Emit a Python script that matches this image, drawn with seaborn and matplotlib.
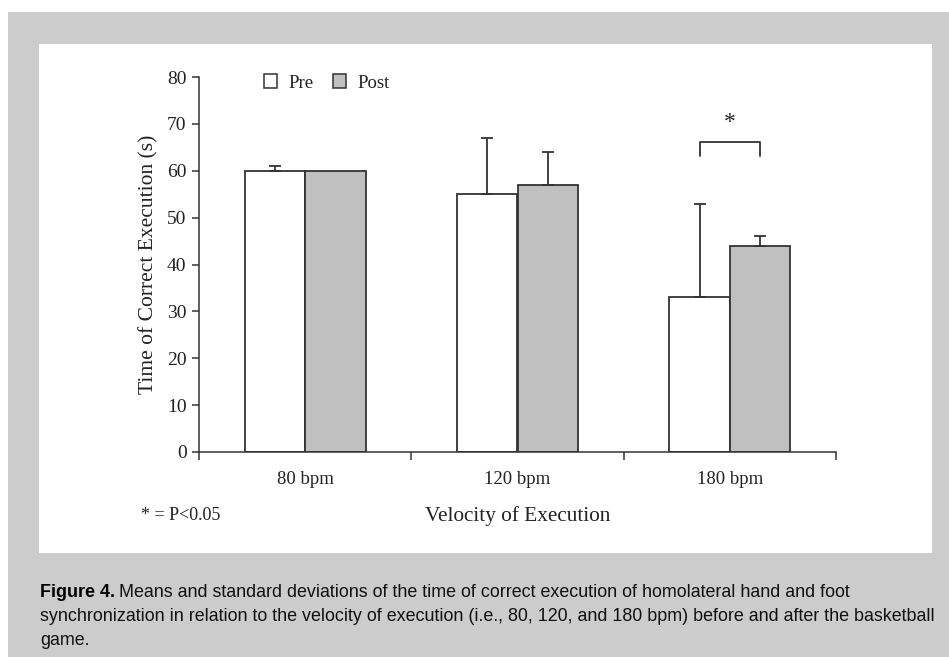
import matplotlib
matplotlib.use("Agg")
import matplotlib.pyplot as plt
import seaborn as sns
import pandas as pd
import numpy as np
from matplotlib.patches import Rectangle, Patch

# ---- data ----
velocities = ["80 bpm", "120 bpm", "180 bpm"]
phases = ["Pre", "Post"]
pre_means = [60, 55, 33]
post_means = [60, 57, 44]
pre_sd = [1, 12, 20]
post_sd = [0, 7, 2]
y_ticks = [0, 10, 20, 30, 40, 50, 60, 70, 80]

sns.set_theme(style="white")
plt.rcParams["font.family"] = ["Liberation Serif", "DejaVu Serif"]

W, H = 949, 657
fig = plt.figure(figsize=(W / 100, H / 100), dpi=100)
fig.patch.set_facecolor("white")

def fx(px):
    return px / W

def fy(py):
    return 1 - py / H

# background panels
fig.patches.append(Rectangle((fx(8), 0), 1 - fx(8), fy(12), transform=fig.transFigure,
                             facecolor="#cccccc", edgecolor="none", zorder=-10))
fig.patches.append(Rectangle((fx(39), fy(553)), fx(932) - fx(39), fy(44) - fy(553),
                             transform=fig.transFigure, facecolor="white",
                             edgecolor="none", zorder=-9))

ax = fig.add_axes([fx(199), fy(452), fx(836) - fx(199), fy(77) - fy(452)])
ax.set_facecolor("none")

df = pd.DataFrame({
    "velocity": velocities * 2,
    "phase": ["Pre"] * 3 + ["Post"] * 3,
    "value": pre_means + post_means,
})

edge = "#333333"
sns.barplot(data=df, x="velocity", y="value", hue="phase", order=velocities,
            hue_order=phases, palette=["white", "#c0c0c0"], edgecolor=edge,
            linewidth=1.3, width=0.57, errorbar=None, saturation=1, ax=ax,
            legend=False)

sds = [pre_sd, post_sd]
centers = []
for cont, sd in zip(ax.containers, sds):
    xs = [b.get_x() + b.get_width() / 2 for b in cont]
    hs = [b.get_height() for b in cont]
    centers.append(xs)
    for x, h, s in zip(xs, hs, sd):
        if s > 0:
            ax.errorbar([x], [h], yerr=[[0], [s]], fmt="none", ecolor=edge,
                        elinewidth=1.3, capsize=4.5, capthick=1.3, zorder=5)

# significance bracket for 180 bpm
xl, xr = centers[0][2], centers[1][2]
ax.plot([xl, xl, xr, xr], [63.1, 66.1, 66.1, 63.1], color=edge, lw=1.3,
        clip_on=False)
ax.text((xl + xr) / 2, 70.4, "*", ha="center", va="center", fontsize=17,
        color="#222222")

ax.set_xlim(-0.5, 2.5)
ax.set_ylim(0, 80)
ax.set_yticks(y_ticks)
ax.set_xticks([-0.5, 0.5, 1.5, 2.5], minor=True)
for s in ["top", "right"]:
    ax.spines[s].set_visible(False)
for s in ["left", "bottom"]:
    ax.spines[s].set_color(edge)
    ax.spines[s].set_linewidth(1.1)
ax.tick_params(axis="y", which="major", left=True, length=5, width=1.1,
               color=edge, labelsize=14, pad=4, labelcolor="#222222")
ax.tick_params(axis="x", which="major", bottom=False, length=0, labelsize=13.5,
               pad=14, labelcolor="#222222")
ax.tick_params(axis="x", which="minor", bottom=True, length=6, width=1.1,
               color=edge)

ax.set_ylabel("Time of Correct Execution (s)", fontsize=15.5, labelpad=6,
              color="#222222")
ax.set_xlabel("Velocity of Execution", fontsize=15.3, labelpad=13,
              color="#222222")

handles = [Patch(facecolor="white", edgecolor=edge, linewidth=1.1, label="Pre"),
           Patch(facecolor="#c0c0c0", edgecolor=edge, linewidth=1.1, label="Post")]
leg = ax.legend(handles=handles, loc="center left",
                bbox_to_anchor=(0.102, 0.984), ncol=2, frameon=False,
                fontsize=13.5, handlelength=0.72, handleheight=0.72,
                handletextpad=0.6, columnspacing=1.0, borderaxespad=0,
                borderpad=0)
for t in leg.get_texts():
    t.set_color("#222222")

fig.text(fx(141), fy(516), "* = P<0.05", fontsize=13, va="center",
         ha="left", color="#222222")

# caption
cap_font = ["Liberation Sans", "DejaVu Sans"]
cap_size = 12.9
bold = fig.text(fx(40), fy(597), "Figure 4.", fontsize=cap_size,
                fontweight="bold", family=cap_font, va="baseline", ha="left",
                color="black")
fig.canvas.draw()
r = fig.canvas.get_renderer()
bb = bold.get_window_extent(renderer=r)
space_px = 4
fig.text((bb.x1 + space_px) / W, fy(597),
         "Means and standard deviations of the time of correct execution of homolateral hand and foot",
         fontsize=cap_size, family=cap_font, va="baseline", ha="left", color="#111111")
fig.text(fx(40), fy(621),
         "synchronization in relation to the velocity of execution (i.e., 80, 120, and 180 bpm) before and after the basketball",
         fontsize=cap_size, family=cap_font, va="baseline", ha="left", color="#111111")
fig.text(fx(40), fy(645), "game.", fontsize=cap_size, family=cap_font,
         va="baseline", ha="left", color="#111111")

fig.savefig("out.png", dpi=100, facecolor=fig.get_facecolor())
